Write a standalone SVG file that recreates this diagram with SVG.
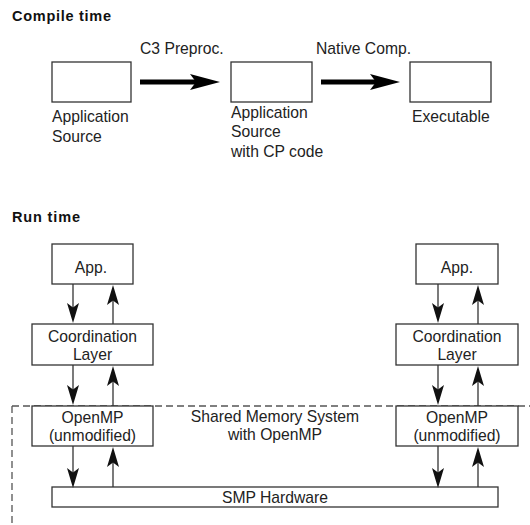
<svg xmlns="http://www.w3.org/2000/svg" width="530" height="525" viewBox="0 0 530 525">
  <style>
    .box { fill: #ffffff; stroke: #333333; stroke-width: 1.3; }
    .txt { font-family: "Liberation Sans", Arial, sans-serif; font-size: 15.7px; fill: #222222; }
    .mid { text-anchor: middle; }
    .title { font-family: "Liberation Sans", Arial, sans-serif; font-size: 14.5px; font-weight: bold; fill: #111111; }
    .thin { stroke: #333333; stroke-width: 1.3; fill: none; }
    .thick { stroke: #000000; stroke-width: 5; fill: none; }
    .dash { stroke: #555555; stroke-width: 1.3; stroke-dasharray: 7 4; fill: none; }
  </style>
  <defs>
    <marker id="dart" markerUnits="userSpaceOnUse" viewBox="0 0 20 12" refX="12" refY="6" markerWidth="20" markerHeight="12" orient="auto">
      <path d="M0,0 L20,6 L0,12 L4.5,6 Z" fill="#111111"/>
    </marker>
    <marker id="bigdart" markerUnits="userSpaceOnUse" viewBox="0 0 30 16" refX="16" refY="8" markerWidth="30" markerHeight="16" orient="auto">
      <path d="M0,0 L30,8 L0,16 L6,8 Z" fill="#000000"/>
    </marker>
  </defs>

  <!-- Section headings -->
  <text class="title" x="12" y="21" textLength="99">Compile time</text>
  <text class="title" x="12" y="222" textLength="68">Run time</text>

  <!-- Shared memory region boundary -->
  <g id="shared-memory-region">
    <path class="dash" d="M12,406 H530 M12,406 V525"/>
    <text class="txt mid" x="275" y="422">Shared Memory System</text>
    <text class="txt mid" x="275" y="440">with OpenMP</text>
  </g>

  <!-- Compile-time pipeline -->
  <g id="app-source">
    <rect class="box" x="52" y="62" width="79" height="40"/>
    <text class="txt" x="52" y="122">Application</text>
    <text class="txt" x="52" y="142">Source</text>
  </g>
  <g id="app-source-cp">
    <rect class="box" x="231" y="62" width="81" height="40"/>
    <text class="txt" x="231" y="118">Application</text>
    <text class="txt" x="231" y="137">Source</text>
    <text class="txt" x="231" y="157">with CP code</text>
  </g>
  <g id="executable">
    <rect class="box" x="410" y="62" width="81" height="40"/>
    <text class="txt" x="412" y="122">Executable</text>
  </g>

  <!-- Run-time stacks -->
  <g id="app-left">
    <rect class="box" x="52" y="244" width="81" height="40"/>
    <text class="txt mid" x="91" y="273">App.</text>
  </g>
  <g id="coord-left">
    <rect class="box" x="32" y="324" width="121" height="41"/>
    <text class="txt mid" x="92.5" y="342">Coordination</text>
    <text class="txt mid" x="92.5" y="360">Layer</text>
  </g>
  <g id="openmp-left">
    <rect class="box" x="32" y="406" width="121" height="40"/>
    <text class="txt mid" x="92.5" y="423">OpenMP</text>
    <text class="txt mid" x="92.5" y="441">(unmodified)</text>
  </g>
  <g id="app-right">
    <rect class="box" x="416" y="244" width="82" height="40"/>
    <text class="txt mid" x="457" y="273">App.</text>
  </g>
  <g id="coord-right">
    <rect class="box" x="396" y="324" width="122" height="41"/>
    <text class="txt mid" x="457" y="342">Coordination</text>
    <text class="txt mid" x="457" y="360">Layer</text>
  </g>
  <g id="openmp-right">
    <rect class="box" x="396" y="406" width="122" height="40"/>
    <text class="txt mid" x="457" y="423">OpenMP</text>
    <text class="txt mid" x="457" y="441">(unmodified)</text>
  </g>
  <g id="smp-hardware">
    <rect class="box" x="52" y="487" width="446" height="20"/>
    <text class="txt mid" x="275" y="502.5">SMP Hardware</text>
  </g>

  <!-- Connectors -->
  <g id="connectors">
    <line class="thick" x1="140" y1="82" x2="206" y2="82" marker-end="url(#bigdart)"/>
    <text class="txt" x="140" y="54">C3 Preproc.</text>
    <line class="thick" x1="321" y1="82" x2="386" y2="82" marker-end="url(#bigdart)"/>
    <text class="txt" x="316" y="54">Native Comp.</text>

    <!-- left stack -->
    <line class="thin" x1="73" y1="284" x2="73" y2="315" marker-end="url(#dart)"/>
    <line class="thin" x1="113" y1="324" x2="113" y2="293" marker-end="url(#dart)"/>
    <line class="thin" x1="73" y1="365" x2="73" y2="397" marker-end="url(#dart)"/>
    <line class="thin" x1="113" y1="406" x2="113" y2="374" marker-end="url(#dart)"/>
    <line class="thin" x1="73" y1="446" x2="73" y2="480" marker-end="url(#dart)"/>
    <line class="thin" x1="113" y1="487" x2="113" y2="455" marker-end="url(#dart)"/>

    <!-- right stack -->
    <line class="thin" x1="438" y1="284" x2="438" y2="315" marker-end="url(#dart)"/>
    <line class="thin" x1="478" y1="324" x2="478" y2="293" marker-end="url(#dart)"/>
    <line class="thin" x1="438" y1="365" x2="438" y2="397" marker-end="url(#dart)"/>
    <line class="thin" x1="478" y1="406" x2="478" y2="374" marker-end="url(#dart)"/>
    <line class="thin" x1="438" y1="446" x2="438" y2="480" marker-end="url(#dart)"/>
    <line class="thin" x1="478" y1="487" x2="478" y2="455" marker-end="url(#dart)"/>
  </g>
</svg>
